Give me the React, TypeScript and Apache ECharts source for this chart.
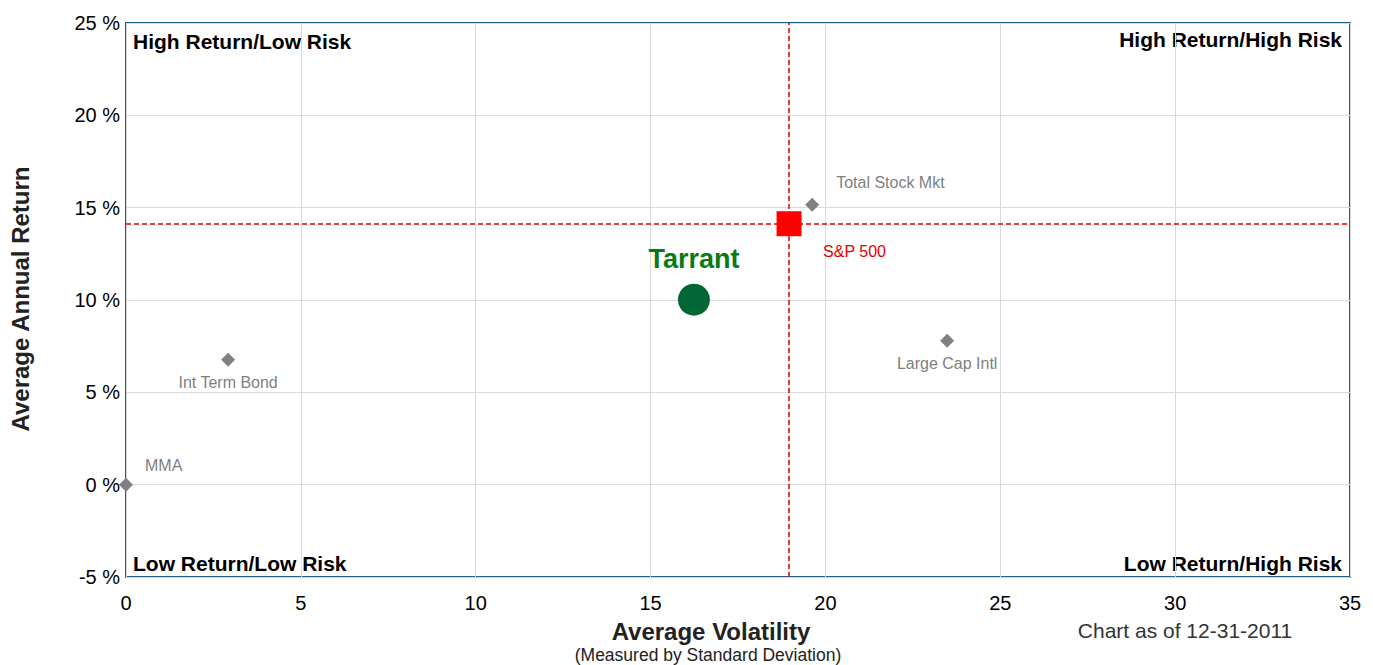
import React, { useEffect, useRef } from "react";
import * as echarts from "echarts";

const names = ["MMA", "Int Term Bond", "Tarrant", "S&P 500", "Total Stock Mkt", "Large Cap Intl"];
const volatility = [0.0, 2.92, 16.24, 18.96, 19.62, 23.48];
const returns = [0.0, 6.77, 10.02, 14.13, 15.16, 7.8];
const xTicks = { min: 0, max: 35, interval: 5 };
const yTicks = { min: -5, max: 25, interval: 5 };
const quadrantLabels = ["High Return/Low Risk", "High Return/High Risk", "Low Return/Low Risk", "Low Return/High Risk"];

const FONT = "Arial, 'Liberation Sans', sans-serif";

export default function App() {
  const ref = useRef<HTMLDivElement>(null);
  useEffect(() => {
    if (!ref.current) return;
    const chart = echarts.init(ref.current, null, { renderer: "svg" });
    const gray = "#808080";
    const styles: Record<string, any> = {
      "MMA": { symbol: "diamond", size: 14, color: gray, label: { align: "left", offset: [19, -19], color: "#7f7f7f", fontSize: 16 } },
      "Int Term Bond": { symbol: "diamond", size: 14, color: gray, label: { align: "center", offset: [0, 23], color: "#7f7f7f", fontSize: 16 } },
      "Tarrant": { symbol: "circle", size: 32, color: "#006633", label: { align: "center", offset: [0, -41], color: "#0a7a14", fontSize: 27, fontWeight: "bold" } },
      "S&P 500": { symbol: "rect", size: 25, color: "#ff0000", label: { align: "left", offset: [34, 28], color: "#e00000", fontSize: 16 } },
      "Total Stock Mkt": { symbol: "diamond", size: 14, color: gray, label: { align: "left", offset: [24, -22], color: "#7f7f7f", fontSize: 16 } },
      "Large Cap Intl": { symbol: "diamond", size: 14, color: gray, label: { align: "center", offset: [0, 23], color: "#7f7f7f", fontSize: 16 } },
    };
    const data = names.map((n, i) => {
      const s = styles[n];
      return {
        name: n,
        value: [volatility[i], returns[i]],
        symbol: s.symbol,
        symbolSize: s.size,
        itemStyle: { color: s.color, opacity: 1 },
        label: {
          show: true,
          position: "inside",
          verticalAlign: "middle",
          formatter: n,
          fontFamily: FONT,
          ...s.label,
        },
      };
    });
    const spIdx = names.indexOf("S&P 500");
    const quadStyle = { fontFamily: FONT, fontSize: 21, fontWeight: "bold", fill: "#000" };
    chart.setOption({
      animation: false,
      grid: { left: 126, top: 23, right: 23, bottom: 88, show: true, borderColor: "#1f5f86", borderWidth: 2, backgroundColor: "transparent" },
      xAxis: {
        type: "value",
        min: xTicks.min,
        max: xTicks.max,
        interval: xTicks.interval,
        axisLine: { show: false },
        axisTick: { show: false },
        splitLine: { show: true, lineStyle: { color: "#d9d9d9", width: 1 } },
        axisLabel: { color: "#000", fontSize: 20, fontFamily: FONT, margin: 16 },
      },
      yAxis: {
        type: "value",
        min: yTicks.min,
        max: yTicks.max,
        interval: yTicks.interval,
        axisLine: { show: false },
        axisTick: { show: false },
        splitLine: { show: true, lineStyle: { color: "#d9d9d9", width: 1 } },
        axisLabel: { color: "#000", fontSize: 20, fontFamily: FONT, margin: 6, formatter: "{value} %" },
      },
      series: [
        {
          type: "scatter",
          data,
          z: 5,
          itemStyle: { opacity: 1 },
          markLine: {
            silent: true,
            symbol: "none",
            label: { show: false },
            lineStyle: { color: "#e00000", type: [5, 3], width: 1.5 },
            data: [{ xAxis: volatility[spIdx] }, { yAxis: returns[spIdx] }],
            z: 3,
          },
        },
      ],
      graphic: [
        { type: "text", left: 133, top: 31, style: { text: quadrantLabels[0], ...quadStyle } },
        { type: "text", right: 31, top: 29, style: { text: quadrantLabels[1], ...quadStyle } },
        { type: "text", left: 133, top: 553, style: { text: quadrantLabels[2], ...quadStyle } },
        { type: "text", right: 31, top: 553, style: { text: quadrantLabels[3], ...quadStyle } },
        { type: "text", x: 711, y: 631, style: { text: "Average Volatility", fontFamily: FONT, fontSize: 24, fontWeight: "bold", fill: "#222", align: "center", verticalAlign: "middle" } },
        { type: "text", x: 708, y: 655, style: { text: "(Measured by Standard Deviation)", fontFamily: FONT, fontSize: 17.5, fill: "#222", align: "center", verticalAlign: "middle" } },
        { type: "text", x: 1185, y: 630, style: { text: "Chart as of 12-31-2011", fontFamily: FONT, fontSize: 21, fill: "#333", align: "center", verticalAlign: "middle" } },
        { type: "text", x: 20, y: 299, rotation: Math.PI / 2, style: { text: "Average Annual Return", fontFamily: FONT, fontSize: 24, fontWeight: "bold", fill: "#222", align: "center", verticalAlign: "middle" } },
      ],
    });
    return () => chart.dispose();
  }, []);
  return <div ref={ref} style={{ position: "fixed", left: 0, top: 0, width: 1373, height: 665, background: "#fff" }} />;
}
